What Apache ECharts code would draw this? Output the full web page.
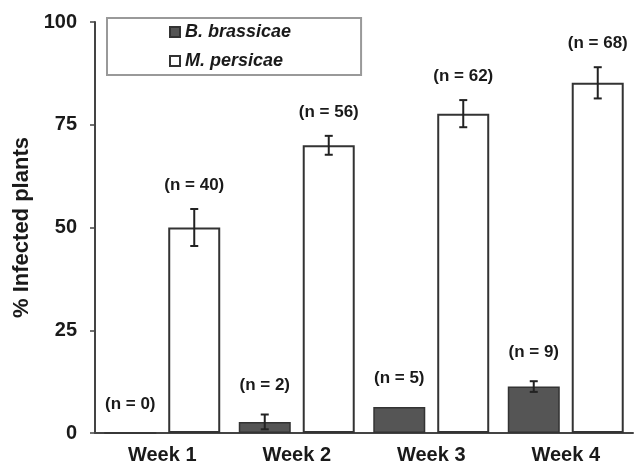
<!DOCTYPE html>
<html>
<head>
<meta charset="utf-8">
<script src="https://cdn.jsdelivr.net/npm/echarts@6/dist/echarts.min.js"></script>
<style>html,body{margin:0;padding:0;background:#fff}#c{width:636px;height:471px}</style>
</head>
<body>
<div id="c"></div>
<script>
var categories = ['Week 1', 'Week 2', 'Week 3', 'Week 4'];
var brassicae = [0, 2.7, 6.3, 11.3];
var brassicaeErr = [0, 1.8, 0, 1.3];
var brassicaeN = [0, 2, 5, 9];
var persicae = [50, 70, 77.7, 85.2];
var persicaeErr = [4.5, 2.3, 3.3, 3.8];
var persicaeN = [40, 56, 62, 68];
var yTicks = [0, 25, 50, 75, 100];

var FONT = '"Liberation Sans", Arial, sans-serif';
var BAR_W = 52, OFFSET = 32;

function errSeries(values, errs, ns, side, labelGap) {
  return {
    type: 'custom',
    z: 5,
    silent: true,
    data: values.map(function (v, i) { return [i, v, errs[i], ns[i]]; }),
    renderItem: function (params, api) {
      var c = api.value(0), v = api.value(1), e = api.value(2), n = api.value(3);
      var top = api.coord([c, v + e]);
      var bot = api.coord([c, v - e]);
      var x = top[0] + side * OFFSET;
      var children = [];
      if (e > 0) {
        var st = { stroke: '#222', lineWidth: 2 };
        children.push({ type: 'line', shape: { x1: x, y1: top[1], x2: x, y2: bot[1] }, style: st });
        children.push({ type: 'line', shape: { x1: x - 4, y1: top[1], x2: x + 4, y2: top[1] }, style: st });
        children.push({ type: 'line', shape: { x1: x - 4, y1: bot[1], x2: x + 4, y2: bot[1] }, style: st });
      }
      children.push({
        type: 'text',
        style: {
          x: x, y: top[1] - labelGap,
          text: '(n = ' + n + ')',
          fill: '#1a1a1a',
          font: 'bold 17px ' + FONT,
          align: 'center', verticalAlign: 'middle'
        }
      });
      return { type: 'group', children: children };
    }
  };
}

var chart = echarts.init(document.getElementById('c'));
chart.setOption({
  animation: false,
  backgroundColor: '#fff',
  grid: { left: 95, right: 3, top: 22, bottom: 38, containLabel: false },
  legend: {
    orient: 'vertical',
    left: 107, top: 18,
    padding: [5, 70, 5, 62],
    itemGap: 11,
    itemWidth: 10, itemHeight: 10,
    borderColor: '#999', borderWidth: 2,
    icon: 'rect',
    textStyle: { fontFamily: FONT, fontWeight: 'bold', fontStyle: 'italic', fontSize: 18, color: '#1a1a1a' },
    data: ['B. brassicae', 'M. persicae']
  },
  xAxis: {
    type: 'category',
    data: categories,
    axisLine: { lineStyle: { color: '#444', width: 2 } },
    axisTick: { alignWithLabel: true, length: 4, lineStyle: { color: '#444', width: 1.5 } },
    axisLabel: { fontFamily: FONT, fontWeight: 'bold', fontSize: 20, color: '#1a1a1a', margin: 12 }
  },
  yAxis: {
    type: 'value',
    min: 0, max: 100, interval: 25,
    name: '% Infected plants',
    nameLocation: 'middle',
    nameGap: 60,
    nameTextStyle: { fontFamily: FONT, fontWeight: 'bold', fontSize: 22, color: '#1a1a1a' },
    axisLine: { show: true, lineStyle: { color: '#444', width: 2 } },
    axisTick: { show: true, length: 5, lineStyle: { color: '#444', width: 1.5 } },
    axisLabel: {
      fontFamily: FONT, fontWeight: 'bold', fontSize: 20, color: '#1a1a1a', margin: 18,
      formatter: function (v) { return yTicks.indexOf(v) >= 0 ? String(v) : ''; }
    },
    splitLine: { show: false }
  },
  series: [
    {
      name: 'B. brassicae', type: 'bar', data: brassicae,
      barWidth: BAR_W, barGap: '23%',
      itemStyle: { color: '#555', borderColor: '#333', borderWidth: 1.5 }
    },
    {
      name: 'M. persicae', type: 'bar', data: persicae,
      barWidth: BAR_W, barGap: '23%',
      itemStyle: { color: '#fff', borderColor: '#333', borderWidth: 2 }
    },
    errSeries(brassicae, brassicaeErr, brassicaeN, -1, 29),
    errSeries(persicae, persicaeErr, persicaeN, 1, 24)
  ]
});
</script>
</body>
</html>
